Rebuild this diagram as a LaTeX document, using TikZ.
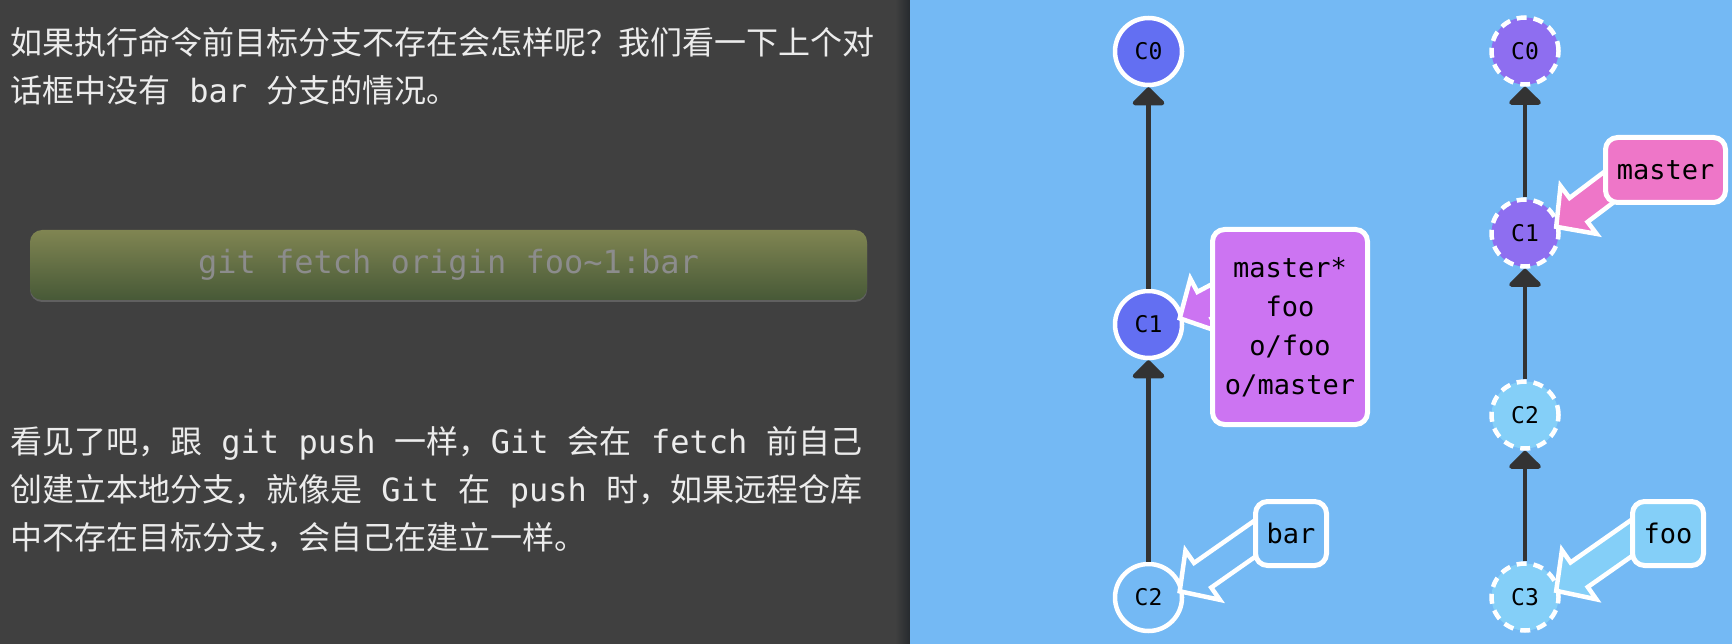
\documentclass[tikz,border=0pt]{standalone}
\usepackage{fontspec}
\setmonofont{DejaVu Sans Mono}
\newfontfamily\zh{Noto Sans CJK SC}
\usepackage{tikz}
\usetikzlibrary{positioning}
\usetikzlibrary{arrows.meta}
\usetikzlibrary{shadows}
\definecolor{panel}{RGB}{64,64,64}
\definecolor{panedge}{RGB}{38,42,46}
\definecolor{sky}{RGB}{116,185,244}
\definecolor{cblue}{RGB}{99,111,242}
\definecolor{cviolet}{RGB}{142,110,240}
\definecolor{ccyan}{RGB}{132,207,248}
\definecolor{lpurple}{RGB}{204,116,242}
\definecolor{lpink}{RGB}{238,118,200}
\definecolor{ink}{RGB}{51,51,51}
\definecolor{prosetext}{RGB}{236,236,236}
\definecolor{cmdtop}{RGB}{128,133,82}
\definecolor{cmdbot}{RGB}{71,89,55}
\definecolor{cmdtext}{RGB}{140,140,140}
\tikzset{
textline/.style={anchor=base west, inner sep=0pt, text=prosetext,
  font=\fontsize{32}{48}\selectfont\zh},
cmd/.style={rounded corners=12pt, minimum width=837pt, minimum height=70pt,
  top color=cmdtop, bottom color=cmdbot, text=cmdtext,
  font=\fontsize{32}{32}\selectfont\ttfamily,
  drop shadow={shadow xshift=0pt, shadow yshift=-2pt, opacity=.5}},
commit/.style={circle, draw=white, line width=4.5pt, minimum size=67pt,
  inner sep=0pt, font=\fontsize{23}{23}\selectfont\ttfamily},
ghost/.style={commit, dash pattern=on 10pt off 7pt},
parent/.style={draw=ink, line width=4.5pt, -{Triangle[width=37pt,length=19pt,round]}},
branch/.style={draw=white, line width=5pt, rounded corners=12pt, inner sep=0pt,
  align=center, font=\fontsize{27}{39}\selectfont\ttfamily},
branch arrow/.style={draw=white, line width=4.5pt},
}
% fat arrow pointing at a commit: fill, commit, angle of the tail
\newcommand\brancharrow[3]{%
  \draw[branch arrow, fill=#1, shift={([xshift=-4pt]#2.10)}, rotate=#3]
    (0pt,0pt) -- (28pt,30pt) -- (28pt,15pt) -- (110pt,15pt) -- (110pt,-15pt)
    -- (28pt,-15pt) -- (28pt,-30pt) -- cycle;
}
\begin{document}
\begin{tikzpicture}[x=1pt,y=-1pt]
\useasboundingbox (0,0) rectangle (1732,644);
% the two panels
\fill[panel] (0,0) rectangle (910,644);
\shade[left color=panel, right color=panedge] (895,0) rectangle (910,644);
\fill[sky] (910,0) rectangle (1732,644);
% the text
\node[textline] (q1) at (10,55) {如果执行命令前目标分支不存在会怎样呢？我们看一下上个对};
\node[textline] (q2) at (10,103) {话框中没有\texttt{ bar }分支的情况。};
\node[textline] (a1) at (10,453) {看见了吧，跟\texttt{ git push }一样，\texttt{Git }会在\texttt{ fetch }前自己};
\node[textline] (a2) at (10,501) {创建立本地分支，就像是\texttt{ Git }在\texttt{ push }时，如果远程仓库};
\node[textline] (a3) at (10,549) {中不存在目标分支，会自己在建立一样。};
% the command
\node[cmd] (cmd) at (448.5,265) {git fetch origin foo\textasciitilde1:bar};
% the commits
\node[commit, fill=cblue] (c0) at (1148.5,51.5) {C0};
\node[commit, fill=cblue, below=201.5pt of c0] (c1) {C1};
\node[commit, fill=sky, below=201.5pt of c1] (c2) {C2};
\node[ghost, fill=cviolet] (r0) at (1525,51) {C0};
\node[ghost, fill=cviolet, below=110.5pt of r0] (r1) {C1};
\node[ghost, fill=ccyan, below=110.5pt of r1] (r2) {C2};
\node[ghost, fill=ccyan, below=110.5pt of r2] (r3) {C3};
% the parent links
\foreach \a/\b in {c1/c0,c2/c1,r1/r0,r2/r1,r3/r2}
  \draw[parent] (\a) -- (\b);
% the branch arrows
\brancharrow{lpurple}{c1}{28}
\brancharrow{lpink}{r1}{37}
\brancharrow{sky}{c2}{35}
\brancharrow{ccyan}{r3}{35}
% the branch labels
\node[branch, fill=lpurple, minimum width=155pt, minimum height=195pt] (lmaster) at (1290,327) {master*\\foo\\o/foo\\o/master};
\node[branch, fill=lpink, minimum width=120pt, minimum height=65pt] (rmaster) at (1665.5,170) {master};
\node[branch, fill=sky, minimum width=71pt, minimum height=64pt] (bar) at (1291,533.5) {bar};
\node[branch, fill=ccyan, minimum width=71pt, minimum height=64pt] (foo) at (1668,533.5) {foo};
\end{tikzpicture}
\end{document}
